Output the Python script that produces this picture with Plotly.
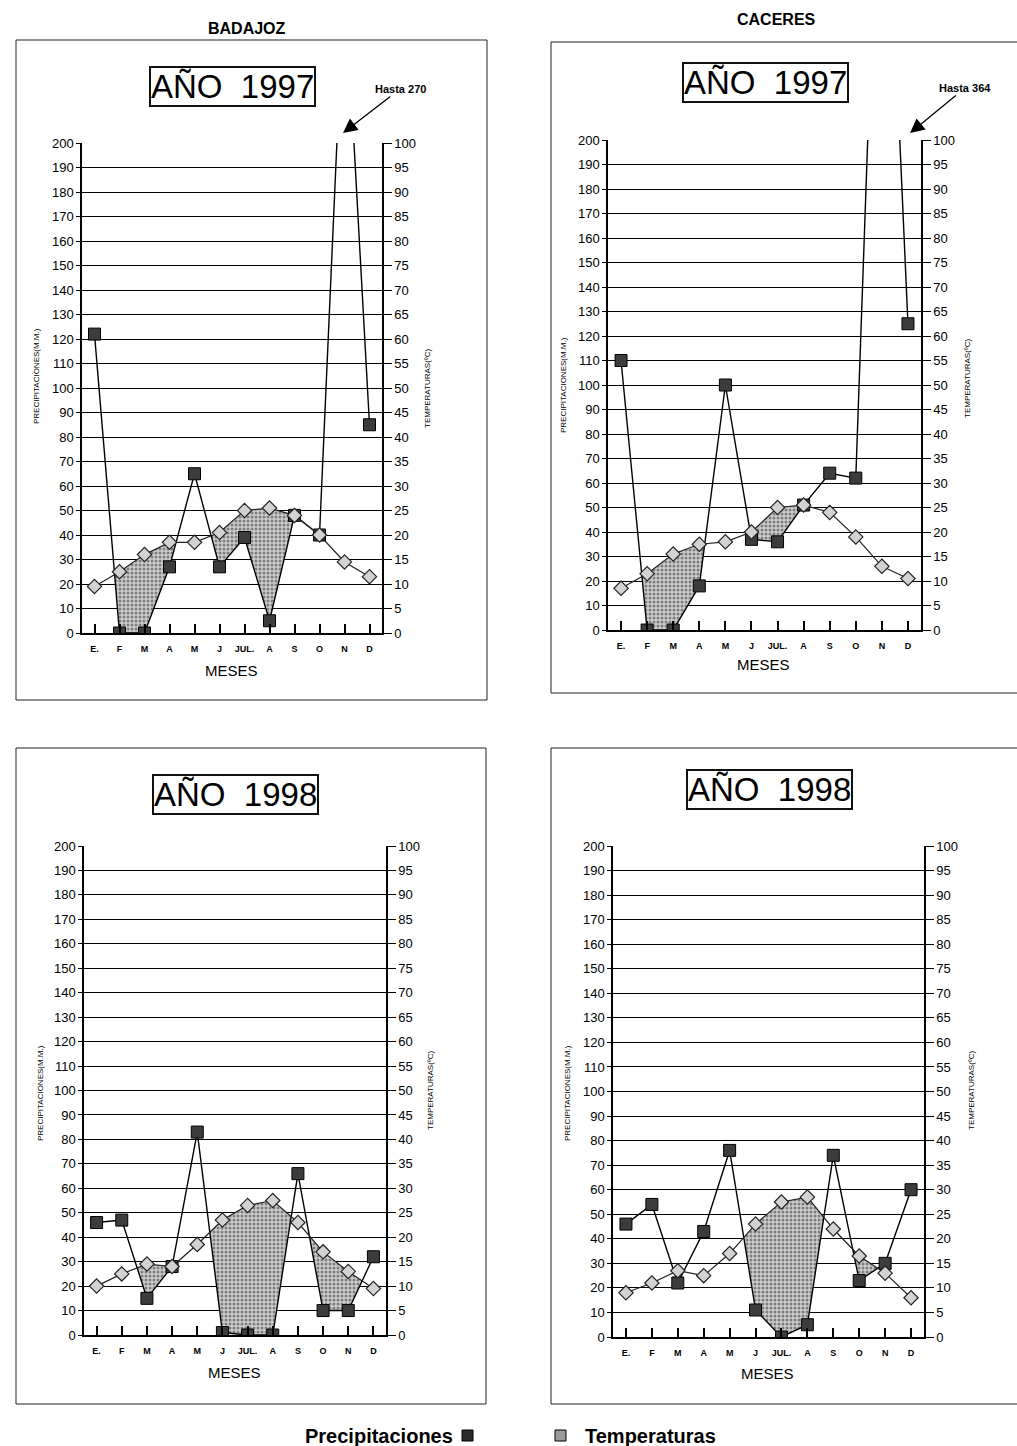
import plotly.graph_objects as go

W, H = 1017, 1446

months = ['E.', 'F', 'M', 'A', 'M', 'J', 'JUL.', 'A', 'S', 'O', 'N', 'D']

# Precipitaciones (mm) and Temperaturas (°C)
precip_badajoz_1997 = [122, 0, 0, 27, 65, 27, 39, 5, 48, 40, 270, 85]
temp_badajoz_1997 = [9.5, 12.5, 16, 18.5, 18.5, 20.5, 25, 25.5, 24, 20, 14.5, 11.5]
precip_caceres_1997 = [110, 0, 0, 18, 100, 37, 36, 51, 64, 62, 364, 125]
temp_caceres_1997 = [8.5, 11.5, 15.5, 17.5, 18, 20, 25, 25.5, 24, 19, 13, 10.5]
precip_badajoz_1998 = [46, 47, 15, 28, 83, 1, 0, 0, 66, 10, 10, 32]
temp_badajoz_1998 = [10, 12.5, 14.5, 14, 18.5, 23.5, 26.5, 27.5, 23, 17, 13, 9.5]
precip_caceres_1998 = [46, 54, 22, 43, 76, 11, 0, 5, 74, 23, 30, 60]
temp_caceres_1998 = [9, 11, 13.5, 12.5, 17, 23, 27.5, 28.5, 22, 16.5, 13, 8]

stations = ['BADAJOZ', 'CACERES']
years = ['AÑO  1997', 'AÑO  1998']
hasta_labels = ['Hasta 270', 'Hasta 364']

panels = [
    dict(P=precip_badajoz_1997, T=temp_badajoz_1997, geo=(82, 382, 143, 633),
         box=(16, 487, 40, 700), year=years[0], yearc=(232, 86), meses=(231, 670),
         lt=(37, 376), rt=(428, 388), hasta=(hasta_labels[0], (400, 89), (343, 133))),
    dict(P=precip_caceres_1997, T=temp_caceres_1997, geo=(608, 921, 140, 630),
         box=(551, 1022, 42, 693), year=years[0], yearc=(765, 82), meses=(763, 665),
         lt=(564, 385), rt=(968, 378), hasta=(hasta_labels[1], (965, 88), (910, 133))),
    dict(P=precip_badajoz_1998, T=temp_badajoz_1998, geo=(84, 386, 846, 1335),
         box=(16, 486, 748, 1404), year=years[1], yearc=(235, 794), meses=(234, 1372),
         lt=(40, 1093), rt=(430, 1090), hasta=None),
    dict(P=precip_caceres_1998, T=temp_caceres_1998, geo=(613, 924, 846, 1337),
         box=(551, 1022, 748, 1404), year=years[1], yearc=(769, 790), meses=(767, 1373),
         lt=(567, 1093), rt=(971, 1090), hasta=None),
]

FONT = 'Liberation Sans, Arial, sans-serif'


def px(x):
    return x / W


def py(y):
    return 1 - y / H


def dry_area(P, T):
    T2 = [2 * t for t in T]
    xs, lo, hi = [], [], []
    for i in range(len(P)):
        xs.append(i); lo.append(P[i]); hi.append(max(P[i], T2[i]))
        if i < len(P) - 1:
            d0 = T2[i] - P[i]
            d1 = T2[i + 1] - P[i + 1]
            if d0 * d1 < 0:
                t = d0 / (d0 - d1)
                yv = P[i] + t * (P[i + 1] - P[i])
                xs.append(i + t); lo.append(yv); hi.append(yv)
    return xs, lo, hi


def text_ann(text, x, y, size, weight='normal', angle=0, **kw):
    d = dict(text=text, x=px(x), y=py(y), xref='paper', yref='paper', showarrow=False,
             xanchor='center', yanchor='middle', textangle=angle,
             font=dict(size=size, family=FONT, weight=weight, color='black'))
    d.update(kw)
    return d


fig = go.Figure()
layout = dict(width=W, height=H, margin=dict(l=0, r=0, t=0, b=0, autoexpand=False),
              paper_bgcolor='white', plot_bgcolor='white', showlegend=False,
              font=dict(family=FONT, color='black'))
annotations = []
shapes = []

for k, pnl in enumerate(panels):
    xn = 'x' if k == 0 else f'x{k+1}'
    yl = 'y' if k == 0 else f'y{2*k+1}'
    yr = f'y{2*k+2}'
    xkey = 'xaxis' if k == 0 else f'xaxis{k+1}'
    ylkey = 'yaxis' if k == 0 else f'yaxis{2*k+1}'
    yrkey = f'yaxis{2*k+2}'
    L, R, Tp, B = pnl['geo']
    xs = list(range(12))

    dx, dlo, dhi = dry_area(pnl['P'], pnl['T'])
    fig.add_trace(go.Scatter(x=dx, y=dlo, xaxis=xn, yaxis=yl, mode='lines',
                             line=dict(width=0), hoverinfo='skip'))
    fig.add_trace(go.Scatter(x=dx, y=dhi, xaxis=xn, yaxis=yl, mode='lines',
                             line=dict(width=0), fill='tonexty', fillcolor='#c4c4c4',
                             fillpattern=dict(shape='.', fgcolor='#2e2e2e', bgcolor='#cdcdcd',
                                              size=4, solidity=0.45),
                             hoverinfo='skip'))
    fig.add_trace(go.Scatter(x=xs, y=pnl['T'], xaxis=xn, yaxis=yr, mode='lines+markers',
                             line=dict(color='#222', width=1.2),
                             marker=dict(symbol='diamond', size=11, color='#d2d2d2',
                                         line=dict(color='#222', width=1.2)),
                             name='Temperaturas'))
    fig.add_trace(go.Scatter(x=xs, y=pnl['P'], xaxis=xn, yaxis=yl, mode='lines+markers',
                             line=dict(color='black', width=1.4),
                             marker=dict(symbol='square', size=12, color='#3c3c3c',
                                         line=dict(color='black', width=1)),
                             name='Precipitaciones'))

    layout[xkey] = dict(domain=[px(L), px(R)], anchor=yl, range=[-0.5, 11.5],
                        tickvals=xs, ticktext=months, ticks='inside', ticklen=9,
                        tickcolor='black', tickwidth=1.5, showline=True, linecolor='black',
                        linewidth=1.5, showgrid=False, zeroline=False, ticklabelstandoff=6,
                        automargin=False,
                        tickfont=dict(size=9, family=FONT, weight='bold'), fixedrange=True)
    layout[ylkey] = dict(domain=[py(B), py(Tp)], anchor=xn, range=[0, 200], dtick=10,
                         tick0=0, showgrid=True, gridcolor='black', gridwidth=1.3,
                         showline=True, linecolor='black', linewidth=1.5, zeroline=False,
                         ticks='outside', ticklen=4, tickcolor='black', automargin=False,
                         tickfont=dict(size=13, family=FONT))
    layout[yrkey] = dict(domain=[py(B), py(Tp)], anchor=xn, overlaying=yl, side='right',
                         range=[0, 100], dtick=5, tick0=0, showgrid=False,
                         showline=True, linecolor='black', linewidth=1.5, zeroline=False,
                         ticks='outside', ticklen=8, tickcolor='black', automargin=False,
                         tickfont=dict(size=13, family=FONT))

    b = pnl['box']
    shapes.append(dict(type='rect', xref='paper', yref='paper', x0=px(b[0]), x1=px(b[1]),
                       y0=py(b[3]), y1=py(b[2]), line=dict(color='#222', width=1)))

    annotations.append(text_ann(pnl['year'], *pnl['yearc'], 33, bgcolor='white',
                                bordercolor='#111', borderwidth=2, borderpad=0))
    annotations.append(text_ann('MESES', *pnl['meses'], 15))
    annotations.append(text_ann('PRECIPITACIONES(M.M.)', *pnl['lt'], 8, angle=-90))
    annotations.append(text_ann('TEMPERATURAS(ºC)', *pnl['rt'], 8, angle=-90))
    if pnl['hasta']:
        txt, (tx, ty), (hx, hy) = pnl['hasta']
        annotations.append(dict(text=txt, x=px(hx), y=py(hy), xref='paper', yref='paper',
                                ax=tx - hx, ay=ty - hy, showarrow=True, arrowhead=2,
                                arrowsize=2.2, arrowwidth=1.3, arrowcolor='black',
                                font=dict(size=11, family=FONT, weight='bold')))

# station titles
annotations.append(text_ann(stations[0], 247, 28, 16, 'bold'))
annotations.append(text_ann(stations[1], 776, 20, 16, 'bold'))

# legend at bottom
annotations.append(text_ann('Precipitaciones', 379, 1436, 20, 'bold'))
annotations.append(text_ann('Temperaturas', 650, 1436, 20, 'bold'))
shapes.append(dict(type='rect', xref='paper', yref='paper', x0=px(462), x1=px(473),
                   y0=py(1441), y1=py(1430), fillcolor='#2a2a2a', line=dict(color='black', width=1)))
shapes.append(dict(type='rect', xref='paper', yref='paper', x0=px(555), x1=px(566),
                   y0=py(1441), y1=py(1430), fillcolor='#9a9a9a', line=dict(color='black', width=1)))

layout['annotations'] = annotations
layout['shapes'] = shapes
fig.update_layout(**layout)
fig.write_html('out.html', config={'displayModeBar': False},
               post_script="document.body.style.margin='0px';")
